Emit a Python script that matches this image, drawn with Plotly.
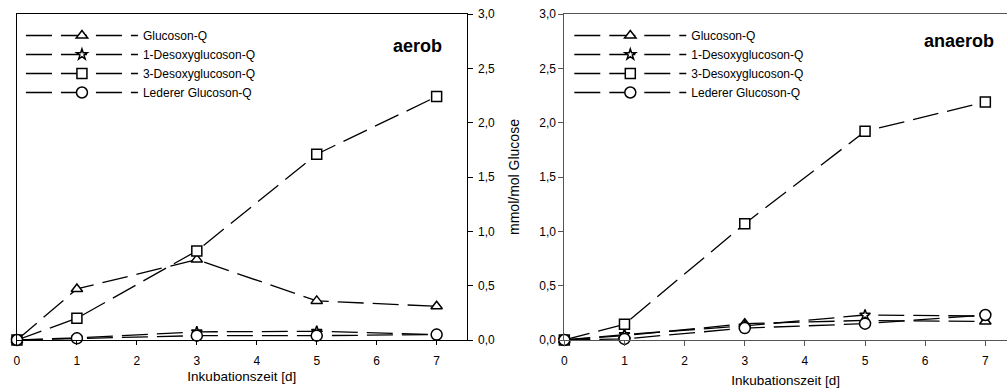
import plotly.graph_objects as go

days = [0, 1, 3, 5, 7]
series_names = ["Glucoson-Q", "1-Desoxyglucoson-Q", "3-Desoxyglucoson-Q", "Lederer Glucoson-Q"]
symbols = ["triangle-up", "star", "square", "circle"]
marker_sizes = [10, 8, 10, 11]

# aerob (left panel)
aerob_glucoson = [0.0, 0.47, 0.74, 0.36, 0.31]
aerob_1_desoxy = [0.0, 0.02, 0.075, 0.08, 0.05]
aerob_3_desoxy = [0.0, 0.20, 0.82, 1.71, 2.24]
aerob_lederer = [0.0, 0.015, 0.04, 0.04, 0.05]

# anaerob (right panel)
anaerob_glucoson = [0.0, 0.04, 0.15, 0.18, 0.17]
anaerob_1_desoxy = [0.0, 0.05, 0.13, 0.23, 0.22]
anaerob_3_desoxy = [0.0, 0.145, 1.07, 1.92, 2.19]
anaerob_lederer = [0.0, 0.01, 0.11, 0.15, 0.23]

x_ticks = [0, 1, 2, 3, 4, 5, 6, 7]
y_ticks = [0.0, 0.5, 1.0, 1.5, 2.0, 2.5, 3.0]

FONT = "Liberation Sans, Arial, sans-serif"
DASH = "26px,9px"

fig = go.Figure()

panels = [
    ("x", "y", "legend", [aerob_glucoson, aerob_1_desoxy, aerob_3_desoxy, aerob_lederer]),
    ("x2", "y2", "legend2", [anaerob_glucoson, anaerob_1_desoxy, anaerob_3_desoxy, anaerob_lederer]),
]
for xa, ya, lg, data in panels:
    for name, sym, ms, vals in zip(series_names, symbols, marker_sizes, data):
        fig.add_trace(go.Scatter(
            x=days, y=vals, name=name, mode="lines+markers",
            xaxis=xa, yaxis=ya, legend=lg,
            line=dict(color="black", width=1.3, dash=DASH),
            marker=dict(symbol=sym, size=ms, color="white",
                        line=dict(color="black", width=1.5)),
            cliponaxis=False,
        ))

W, H = 1007, 390
T, B = 14, 50
PH = H - T - B


def px_x(px):
    return px / W


def px_y(py):
    return (H - B - py) / PH


left_x0, left_x1 = 14 / W, 465 / W
right_x0 = 563 / W

axis_font = dict(family=FONT, size=12, color="black")
title_font = dict(family=FONT, size=13.5, color="black")

fig.update_layout(
    width=W, height=H,
    margin=dict(l=0, r=0, t=T, b=B),
    paper_bgcolor="white", plot_bgcolor="white",
    separators=", ",
    font=dict(family=FONT, size=12, color="black"),
    showlegend=True,
    xaxis=dict(domain=[left_x0, left_x1], range=[0, 7.5], tickvals=x_ticks,
               showline=True, linecolor="black", linewidth=1, mirror=True,
               ticks="outside", ticklen=4, tickcolor="black", ticklabelstandoff=6,
               showgrid=False, zeroline=False, tickfont=axis_font,
               title=dict(text="Inkubationszeit [d]", font=title_font, standoff=4)),
    yaxis=dict(domain=[0, 1], range=[0, 3.0], tickvals=y_ticks, tickformat=".1f",
               side="right", anchor="x",
               showline=True, linecolor="black", linewidth=1, mirror=True,
               ticks="outside", ticklen=5, tickcolor="black", ticklabelstandoff=3,
               showgrid=False, zeroline=False, tickfont=axis_font),
    xaxis2=dict(domain=[right_x0, 1.0], range=[0, 7.36], tickvals=x_ticks, anchor="y2",
                showline=True, linecolor="#555555", linewidth=1, mirror=True,
                ticks="outside", ticklen=5, tickcolor="#555555", ticklabelstandoff=5,
                showgrid=False, zeroline=False, tickfont=axis_font,
                title=dict(text="Inkubationszeit [d]", font=title_font, standoff=8)),
    yaxis2=dict(domain=[0, 1], range=[0, 3.0], tickvals=y_ticks, tickformat=".1f",
                anchor="x2", side="left",
                showline=True, linecolor="#555555", linewidth=1,
                ticks="outside", ticklen=5, tickcolor="#555555",
                showgrid=False, zeroline=False, tickfont=axis_font,
                title=dict(text="mmol/mol Glucose", font=dict(family=FONT, size=14, color="black"),
                           standoff=16)),
    legend=dict(x=px_x(18), y=px_y(21), xanchor="left", yanchor="top",
                bgcolor="rgba(0,0,0,0)", itemwidth=112,
                font=dict(family=FONT, size=12), itemclick=False),
    legend2=dict(x=px_x(568), y=px_y(21), xanchor="left", yanchor="top",
                 bgcolor="rgba(0,0,0,0)", itemwidth=112,
                 font=dict(family=FONT, size=12), itemclick=False),
    annotations=[
        dict(text="<b>aerob</b>", xref="paper", yref="paper", x=px_x(442), y=px_y(46),
             xanchor="right", yanchor="middle", showarrow=False,
             font=dict(family=FONT, size=18, color="black")),
        dict(text="<b>anaerob</b>", xref="paper", yref="paper", x=px_x(996), y=px_y(41),
             xanchor="right", yanchor="middle", showarrow=False,
             font=dict(family=FONT, size=18, color="black")),
    ],
)

fig.write_html("out.html", config={"displayModeBar": False},
               post_script="document.body.style.margin='0';document.body.style.overflow='hidden';")
